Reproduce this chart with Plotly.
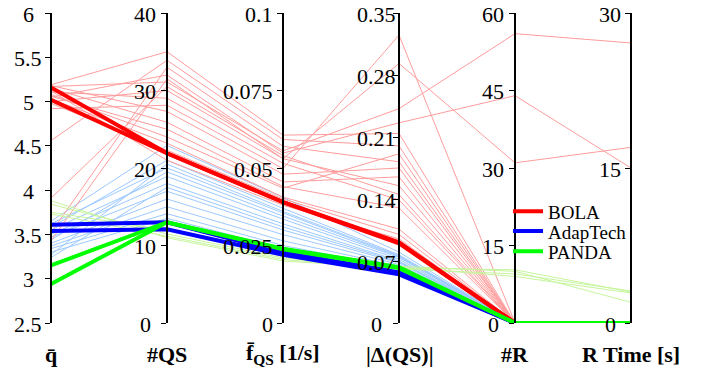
import plotly.graph_objects as go

# ---------------- data ----------------
axis_labels = ["<b>q̄</b>", "<b>#QS</b>", "<b>f̄<sub>QS</sub> [1/s]</b>",
               "<b>|Δ(QS)|</b>", "<b>#R</b>", "<b>R Time [s]</b>"]
axis_min = [2.5, 0, 0, 0, 0, 0]
axis_max = [6, 40, 0.1, 0.35, 60, 30]
axis_ticks = [
    [2.5, 3, 3.5, 4, 4.5, 5, 5.5, 6],
    [0, 10, 20, 30, 40],
    [0, 0.025, 0.05, 0.075, 0.1],
    [0, 0.07, 0.14, 0.21, 0.28, 0.35],
    [0, 15, 30, 45, 60],
    [0, 15, 30],
]
axis_ticktext = [
    ["2.5", "3", "3.5", "4", "4.5", "5", "5.5", "6"],
    ["0", "10", "20", "30", "40"],
    ["0", "0.025", "0.05", "0.075", "0.1"],
    ["0", "0.07", "0.14", "0.21", "0.28", "0.35"],
    ["0", "15", "30", "45", "60"],
    ["0", "15", "30"],
]

# rows: [q, #QS, f_QS, |d(QS)|, #R, R time]
bola_thin = [
    [5.19, 35.0, 0.0606, 0.214, 0, 0],
    [5.18, 27.3, 0.0480, 0.175, 0, 0],
    [5.17, 31.1, 0.0555, 0.242, 56, 27.1],
    [5.15, 25.9, 0.0455, 0.165, 0, 0],
    [5.11, 29.0, 0.0515, 0.139, 0, 0],
    [5.08, 24.0, 0.0435, 0.191, 0, 0],
    [5.05, 32.0, 0.0548, 0.226, 44, 15.0],
    [5.03, 23.2, 0.0406, 0.106, 0, 0],
    [5.00, 30.0, 0.0530, 0.293, 31, 17.0],
    [4.98, 22.3, 0.0400, 0.100, 0, 0],
    [4.92, 28.1, 0.0498, 0.325, 0, 0],
    [4.56, 33.9, 0.0592, 0.200, 0, 0],
    [3.91, 30.5, 0.0540, 0.145, 0, 0],
    [3.52, 33.0, 0.0570, 0.182, 0, 0],
    [3.43, 31.5, 0.0530, 0.155, 0, 0],
    [5.12, 21.0, 0.0380, 0.095, 0, 0],
    [5.06, 25.0, 0.0440, 0.130, 0, 0],
]
adap_thin = [
    [3.65, 22.9, 0.0405, 0.080, 0, 0],
    [3.62, 20.0, 0.0355, 0.075, 0, 0],
    [3.58, 21.0, 0.0370, 0.077, 0, 0],
    [3.55, 18.9, 0.0335, 0.072, 0, 0],
    [3.50, 18.0, 0.0320, 0.070, 0, 0],
    [3.47, 17.0, 0.0300, 0.068, 0, 0],
    [3.44, 19.5, 0.0345, 0.074, 0, 0],
    [3.40, 16.0, 0.0285, 0.066, 0, 0],
    [3.37, 15.0, 0.0265, 0.064, 0, 0],
    [3.34, 14.1, 0.0250, 0.062, 0, 0],
    [3.30, 13.5, 0.0240, 0.060, 0, 0],
    [3.27, 20.5, 0.0360, 0.076, 0, 0],
    [3.24, 17.5, 0.0310, 0.069, 0, 0],
]
panda_thin = [
    [3.88, 11.0, 0.0200, 0.062, 10.3, 3.0],
    [3.84, 11.5, 0.0210, 0.063, 9.0, 2.9],
    [3.75, 12.0, 0.0215, 0.064, 10.0, 2.0],
    [3.73, 11.2, 0.0205, 0.061, 9.5, 3.1],
]
bola_main = [
    [5.16, 21.9, 0.0390, 0.090, 0, 0],
    [5.02, 21.9, 0.0390, 0.091, 0, 0],
]
adap_main = [
    [3.61, 13.0, 0.0228, 0.057, 0, 0],
    [3.54, 12.1, 0.0220, 0.055, 0, 0],
]
panda_main = [
    [3.15, 13.0, 0.0240, 0.063, 0, 0],
    [2.94, 13.0, 0.0238, 0.062, 0, 0],
]

# ---------------- helpers ----------------
n_axes = len(axis_labels)
xs = list(range(n_axes))


def norm(row):
    return [(v - axis_min[i]) / (axis_max[i] - axis_min[i]) for i, v in enumerate(row)]


def group_xy(rows):
    gx, gy = [], []
    for r in rows:
        gx += xs + [None]
        gy += norm(r) + [None]
    return gx, gy


fig = go.Figure()

thin_groups = [
    (adap_thin, "#9cc9ff"),
    (bola_thin, "#ff9c9c"),
    (panda_thin, "#c6f59c"),
]
for rows, col in thin_groups:
    gx, gy = group_xy(rows)
    fig.add_trace(go.Scatter(x=gx, y=gy, mode="lines", line=dict(color=col, width=1),
                             showlegend=False, hoverinfo="skip"))

main_groups = [
    (bola_main, "#ff0000", "BOLA", "legend"),
    (adap_main, "#0000ff", "AdapTech", "legend2"),
    (panda_main, "#00ff00", "PANDA", "legend3"),
]
for rows, col, name, leg in main_groups:
    for k, r in enumerate(rows):
        fig.add_trace(go.Scatter(x=xs, y=norm(r), mode="lines",
                                 line=dict(color=col, width=4),
                                 name=name, legendgroup=name, showlegend=(k == 0),
                                 legend=leg, hoverinfo="skip"))

font_family = "Liberation Serif"
tick_font = dict(family=font_family, size=22, color="black")
label_shift = [-23, -22, -8, -23, -22, -21]
label_anchor = ["center", "center", "right", "center", "center", "center"]

layout_axes = {}
for i in range(n_axes):
    key = "yaxis%d" % (i + 2)
    layout_axes[key] = dict(
        range=[axis_min[i], axis_max[i]],
        tickmode="array", tickvals=axis_ticks[i], showticklabels=False,
        overlaying="y", anchor="free", position=i / (n_axes - 1), side="left",
        showline=True, linecolor="black", linewidth=2,
        ticks="outside", ticklen=5, tickwidth=1, tickcolor="black",
        showgrid=False, zeroline=False, automargin=False,
    )
    fig.add_trace(go.Scatter(x=[None], y=[None], yaxis="y%d" % (i + 2),
                             showlegend=False, hoverinfo="skip"))
    # tick labels, placed through each axis' own scale
    for v, t in zip(axis_ticks[i], axis_ticktext[i]):
        fig.add_annotation(text=t, xref="paper", x=i / (n_axes - 1),
                           yref="y%d" % (i + 2), y=v,
                           xanchor=label_anchor[i], yanchor="middle",
                           xshift=label_shift[i], yshift=-1,
                           showarrow=False, font=tick_font)
    # axis name below each axis
    fig.add_annotation(text=axis_labels[i], xref="x", x=xs[i], yref="paper", y=0,
                       xanchor="center", yanchor="middle", yshift=-31,
                       showarrow=False, font=tick_font)

leg_common = dict(x=0.788, xanchor="left", yanchor="middle",
                  bgcolor="rgba(0,0,0,0)", borderwidth=0,
                  font=dict(family=font_family, size=19, color="black"))

fig.update_layout(
    template="none",
    width=710, height=376,
    margin=dict(l=51, r=79, t=13, b=53, pad=0, autoexpand=False),
    paper_bgcolor="white", plot_bgcolor="white",
    font=dict(family=font_family, color="black"),
    xaxis=dict(range=[0, n_axes - 1], showticklabels=False,
               showgrid=False, zeroline=False, showline=False, ticks="", automargin=False),
    yaxis=dict(range=[0, 1], visible=False, showgrid=False, zeroline=False, automargin=False),
    legend=dict(y=0.360, **leg_common),
    legend2=dict(y=0.296, **leg_common),
    legend3=dict(y=0.231, **leg_common),
    showlegend=True,
    **layout_axes,
)

fig.write_html("out.html", config={"displayModeBar": False},
               post_script="document.body.style.margin='0';")
